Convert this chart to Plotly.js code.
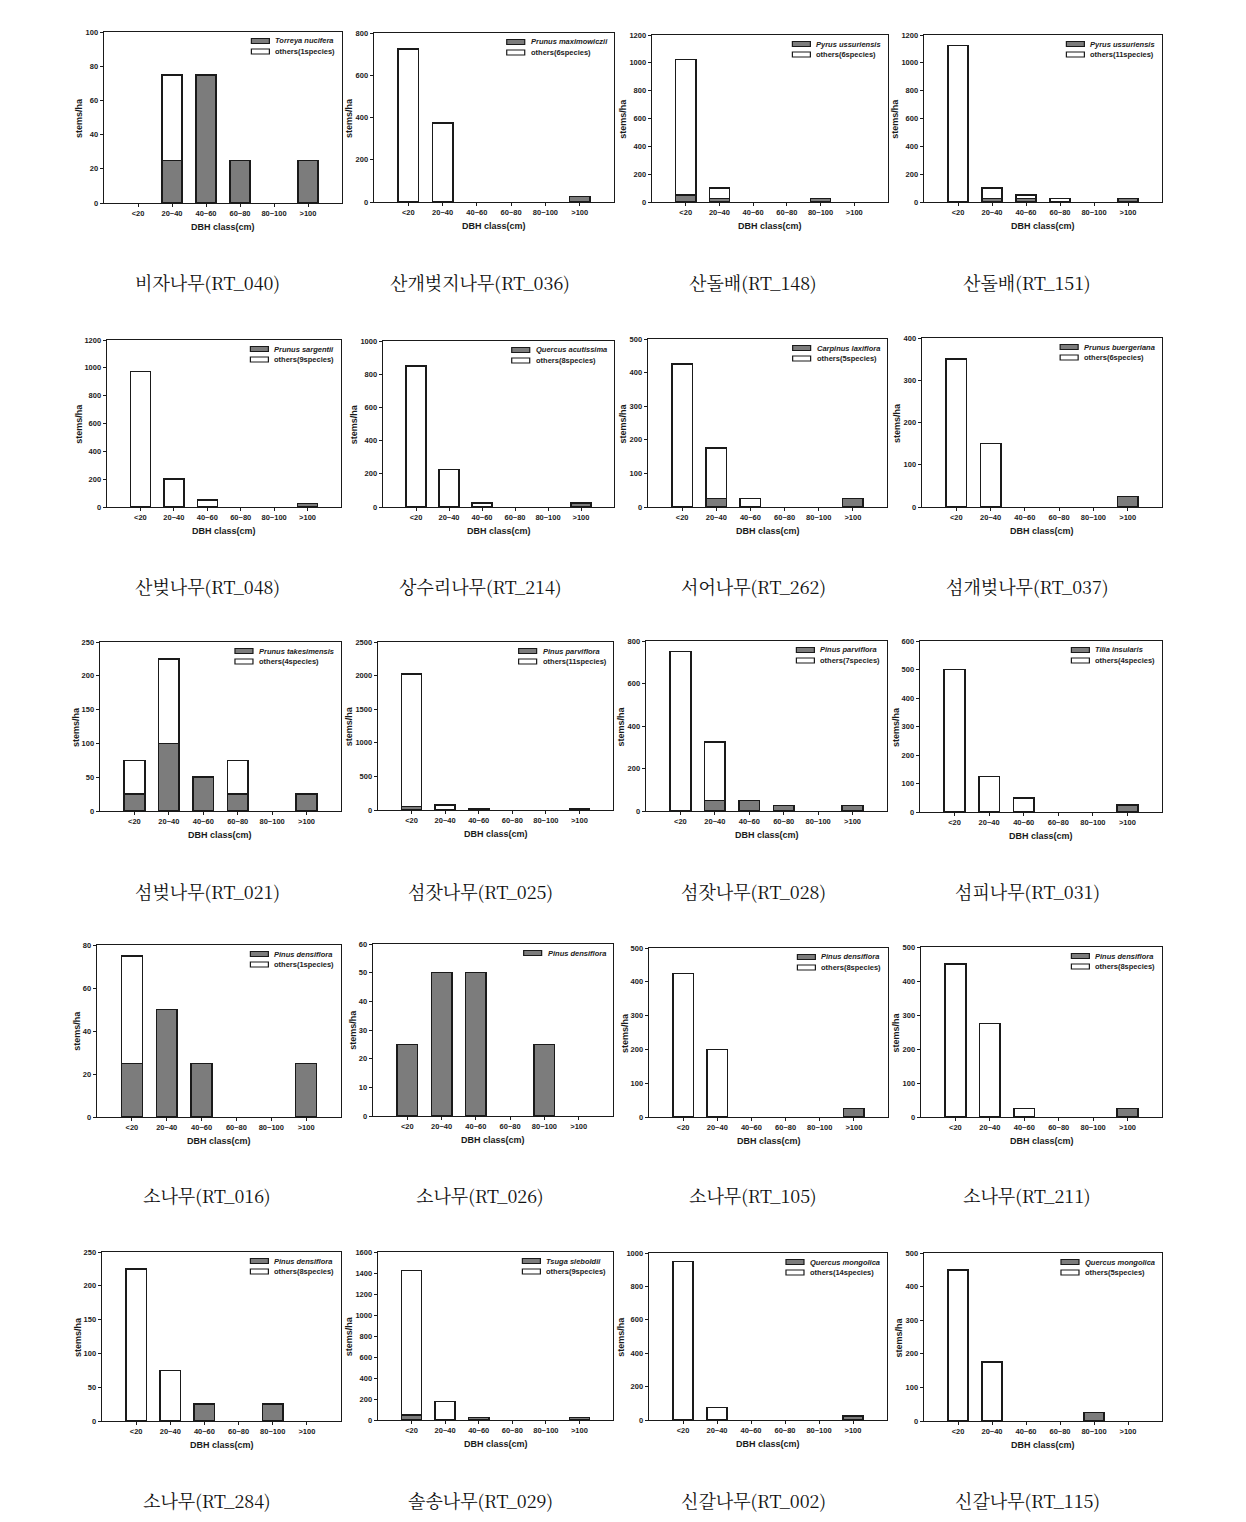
<!DOCTYPE html>
<html>
<head>
<meta charset="utf-8">
<script src="https://cdn.plot.ly/plotly-3.0.1.min.js"></script>
<style>
html,body{margin:0;padding:0;background:#fff;}
#chart{width:1246px;height:1522px;}
</style>
</head>
<body>
<div id="chart"></div>
<script>
// ---------------- DATA ----------------
const categories = ['<20', '20~40', '40~60', '60~80', '80~100', '>100'];

const captions = [
  '비자나무(RT_040)', '산개벚지나무(RT_036)', '산돌배(RT_148)', '산돌배(RT_151)',
  '산벚나무(RT_048)', '상수리나무(RT_214)', '서어나무(RT_262)', '섬개벚나무(RT_037)',
  '섬벚나무(RT_021)', '섬잣나무(RT_025)', '섬잣나무(RT_028)', '섬피나무(RT_031)',
  '소나무(RT_016)', '소나무(RT_026)', '소나무(RT_105)', '소나무(RT_211)',
  '소나무(RT_284)', '솔송나무(RT_029)', '신갈나무(RT_002)', '신갈나무(RT_115)'
];

const focalNames = [
  'Torreya nucifera', 'Prunus maximowiczii', 'Pyrus ussuriensis', 'Pyrus ussuriensis',
  'Prunus sargentii', 'Quercus acutissima', 'Carpinus laxiflora', 'Prunus buergeriana',
  'Prunus takesimensis', 'Pinus parviflora', 'Pinus parviflora', 'Tilia insularis',
  'Pinus densiflora', 'Pinus densiflora', 'Pinus densiflora', 'Pinus densiflora',
  'Pinus densiflora', 'Tsuga sieboldii', 'Quercus mongolica', 'Quercus mongolica'
];

const othersLabels = [
  'others(1species)', 'others(6species)', 'others(6species)', 'others(11species)',
  'others(9species)', 'others(8species)', 'others(5species)', 'others(6species)',
  'others(4species)', 'others(11species)', 'others(7species)', 'others(4species)',
  'others(1species)', null, 'others(8species)', 'others(8species)',
  'others(8species)', 'others(9species)', 'others(14species)', 'others(5species)'
];

const yMax  = [100, 800, 1200, 1200, 1200, 1000, 500, 400, 250, 2500, 800, 600, 80, 60, 500, 500, 250, 1600, 1000, 500];
const yStep = [20, 200, 200, 200, 200, 200, 100, 100, 50, 500, 200, 100, 20, 10, 100, 100, 50, 200, 200, 100];

// stems/ha per DBH class: focal species (grey) and others (white)
const focal_RT040  = [0, 25, 75, 25, 0, 25];
const others_RT040 = [0, 50, 0, 0, 0, 0];
const focal_RT036  = [0, 0, 0, 0, 0, 25];
const others_RT036 = [725, 375, 0, 0, 0, 0];
const focal_RT148  = [50, 25, 0, 0, 25, 0];
const others_RT148 = [975, 75, 0, 0, 0, 0];
const focal_RT151  = [0, 25, 25, 0, 0, 25];
const others_RT151 = [1125, 75, 25, 25, 0, 0];

const focal_RT048  = [0, 0, 0, 0, 0, 25];
const others_RT048 = [975, 200, 50, 0, 0, 0];
const focal_RT214  = [0, 0, 0, 0, 0, 25];
const others_RT214 = [850, 225, 25, 0, 0, 0];
const focal_RT262  = [0, 25, 0, 0, 0, 25];
const others_RT262 = [425, 150, 25, 0, 0, 0];
const focal_RT037  = [0, 0, 0, 0, 0, 25];
const others_RT037 = [350, 150, 0, 0, 0, 0];

const focal_RT021  = [25, 100, 50, 25, 0, 25];
const others_RT021 = [50, 125, 0, 50, 0, 0];
const focal_RT025  = [50, 0, 25, 0, 0, 25];
const others_RT025 = [1975, 75, 0, 0, 0, 0];
const focal_RT028  = [0, 50, 50, 25, 0, 25];
const others_RT028 = [750, 275, 0, 0, 0, 0];
const focal_RT031  = [0, 0, 0, 0, 0, 25];
const others_RT031 = [500, 125, 50, 0, 0, 0];

const focal_RT016  = [25, 50, 25, 0, 0, 25];
const others_RT016 = [50, 0, 0, 0, 0, 0];
const focal_RT026  = [25, 50, 50, 0, 25, 0];
const focal_RT105  = [0, 0, 0, 0, 0, 25];
const others_RT105 = [425, 200, 0, 0, 0, 0];
const focal_RT211  = [0, 0, 0, 0, 0, 25];
const others_RT211 = [450, 275, 25, 0, 0, 0];

const focal_RT284  = [0, 0, 25, 0, 25, 0];
const others_RT284 = [225, 75, 0, 0, 0, 0];
const focal_RT029  = [50, 0, 25, 0, 0, 25];
const others_RT029 = [1375, 175, 0, 0, 0, 0];
const focal_RT002  = [0, 0, 0, 0, 0, 25];
const others_RT002 = [950, 75, 0, 0, 0, 0];
const focal_RT115  = [0, 0, 0, 0, 25, 0];
const others_RT115 = [450, 175, 0, 0, 0, 0];

const focalSeries = [
  focal_RT040, focal_RT036, focal_RT148, focal_RT151,
  focal_RT048, focal_RT214, focal_RT262, focal_RT037,
  focal_RT021, focal_RT025, focal_RT028, focal_RT031,
  focal_RT016, focal_RT026, focal_RT105, focal_RT211,
  focal_RT284, focal_RT029, focal_RT002, focal_RT115
];
const othersSeries = [
  others_RT040, others_RT036, others_RT148, others_RT151,
  others_RT048, others_RT214, others_RT262, others_RT037,
  others_RT021, others_RT025, others_RT028, others_RT031,
  others_RT016, null, others_RT105, others_RT211,
  others_RT284, others_RT029, others_RT002, others_RT115
];

// ---------------- LAYOUT (pixel boxes of plot areas: left, right, top, bottom) ----------------
const W = 1246, H = 1522;
const boxes = [
  [104, 342, 32, 203], [374, 614, 33, 202], [652, 888, 35, 202], [924, 1162, 35, 202],
  [107, 341, 340, 507], [383, 614, 341, 507], [648, 887, 339, 507], [922, 1162, 338, 507],
  [100, 341, 642, 811], [378, 613, 642, 810], [646, 887, 641, 811], [920, 1162, 641, 812],
  [97, 341, 945, 1117], [373, 613, 944, 1116], [649, 888, 948, 1117], [921, 1162, 947, 1117],
  [102, 341, 1252, 1421], [378, 613, 1252, 1420], [649, 887, 1253, 1420], [924, 1162, 1253, 1421]
];
const captionX = [207, 480, 753, 1027];
const captionY = [282, 586, 891, 1195, 1500];

const px = v => v / W;
const py = v => 1 - v / H;

const FONT = 'Liberation Sans, Arial, sans-serif';
const INK = '#1a1a1a';
const GREY = '#7c7c7c';

const cvs = document.createElement('canvas');
const ctx = cvs.getContext('2d');
function textW(t, italic, size) {
  ctx.font = (italic ? 'italic ' : '') + 'bold ' + size + 'px "Liberation Sans", Arial, sans-serif';
  return ctx.measureText(t).width;
}

const nz = arr => arr.map(v => (v === 0 ? null : v));

const traces = [];
const layout = {
  width: W, height: H,
  margin: {l: 0, r: 0, t: 0, b: 0},
  paper_bgcolor: '#fff', plot_bgcolor: '#fff',
  showlegend: false,
  barmode: 'stack',
  bargap: 0.4,
  font: {family: FONT, color: INK},
  annotations: [],
  shapes: []
};

for (let i = 0; i < 20; i++) {
  const n = i + 1;
  const xa = n === 1 ? 'x' : 'x' + n;
  const ya = n === 1 ? 'y' : 'y' + n;
  const [L, R, T, B] = boxes[i];

  traces.push({
    type: 'bar', x: categories, y: nz(focalSeries[i]),
    xaxis: xa, yaxis: ya, name: focalNames[i], width: 0.6,
    marker: {color: GREY, line: {color: INK, width: 1.5}},
    hoverinfo: 'x+y+name'
  });
  if (othersSeries[i]) {
    traces.push({
      type: 'bar', x: categories, y: nz(othersSeries[i]),
      xaxis: xa, yaxis: ya, name: othersLabels[i], width: 0.6,
      marker: {color: '#ffffff', line: {color: INK, width: 1.5}},
      hoverinfo: 'x+y+name'
    });
  }

  const axCommon = {
    showline: true, mirror: true, linecolor: INK, linewidth: 1.4,
    ticks: 'outside', ticklen: 3, tickwidth: 1, tickcolor: INK,
    showgrid: false, zeroline: false, fixedrange: true,
    tickfont: {family: FONT, size: 7.5, color: INK, weight: 'bold'}
  };
  layout[n === 1 ? 'xaxis' : 'xaxis' + n] = Object.assign({}, axCommon, {
    domain: [px(L), px(R)], anchor: ya,
    type: 'category', categoryorder: 'array', categoryarray: categories,
    range: [-1, 6]
  });
  layout[n === 1 ? 'yaxis' : 'yaxis' + n] = Object.assign({}, axCommon, {
    domain: [py(B), py(T)], anchor: xa,
    range: [0, yMax[i]], tick0: 0, dtick: yStep[i]
  });

  // axis titles
  layout.annotations.push({
    xref: 'paper', yref: 'paper', x: px((L + R) / 2), y: py(B + 24),
    text: '<b>DBH class(cm)</b>', showarrow: false,
    xanchor: 'center', yanchor: 'middle',
    font: {family: FONT, size: 9, color: INK}
  });
  const labW = textW(String(yMax[i]), false, 7.5);
  layout.annotations.push({
    xref: 'paper', yref: 'paper', x: px(L - 12 - labW), y: py((T + B) / 2),
    text: '<b>stems/ha</b>', showarrow: false, textangle: -90,
    xanchor: 'center', yanchor: 'middle',
    font: {family: FONT, size: 9, color: INK}
  });

  // legend (drawn in the SigmaPlot style: flat rectangles + labels)
  const labels = [{t: focalNames[i], it: true, fill: GREY}];
  if (othersLabels[i]) labels.push({t: othersLabels[i], it: false, fill: '#ffffff'});
  const maxW = Math.max(...labels.map(o => textW(o.t, o.it, 7.5)));
  const textLeft = R - 9 - maxW;
  labels.forEach((o, k) => {
    const cy = T + 9 + k * 10.5;
    layout.shapes.push({
      type: 'rect', xref: 'paper', yref: 'paper',
      x0: px(textLeft - 22), x1: px(textLeft - 4),
      y0: py(cy + 2.5), y1: py(cy - 2.5),
      fillcolor: o.fill, line: {color: INK, width: 1.2}
    });
    layout.annotations.push({
      xref: 'paper', yref: 'paper', x: px(textLeft), y: py(cy),
      text: o.it ? '<b><i>' + o.t + '</i></b>' : '<b>' + o.t + '</b>',
      showarrow: false, xanchor: 'left', yanchor: 'middle',
      font: {family: FONT, size: 7.5, color: INK}
    });
  });

  // caption under each panel
  layout.annotations.push({
    xref: 'paper', yref: 'paper',
    x: px(captionX[i % 4]), y: py(captionY[Math.floor(i / 4)]),
    text: captions[i], showarrow: false, xanchor: 'center', yanchor: 'middle',
    font: {family: '"Noto Serif CJK KR", "Noto Sans CJK KR", serif', size: 18, color: '#111'}
  });
}

Plotly.newPlot('chart', traces, layout, {displayModeBar: false, staticPlot: true});
</script>
</body>
</html>
